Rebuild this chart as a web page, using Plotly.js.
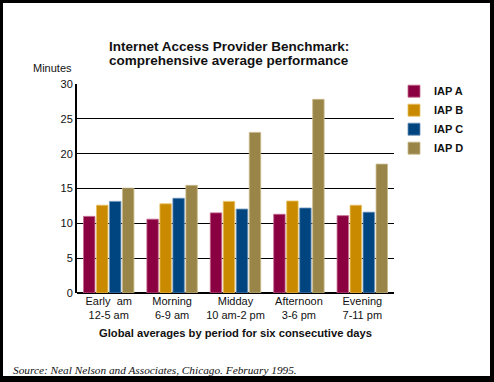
<!DOCTYPE html>
<html><head><meta charset="utf-8">
<script src="https://cdn.plot.ly/plotly-3.0.1.min.js"></script>
<style>
html,body{margin:0;padding:0;background:#000;}
#wrap{position:absolute;left:0;top:0;width:494px;height:382px;box-sizing:border-box;border-style:solid;border-color:#000;border-width:3px 4px 6px 3px;background:#fff;}
#chart{width:487px;height:373px;}
</style></head>
<body><div id="wrap"><div id="chart"></div></div>
<script>
const categories = ["Early  am<br>12-5 am", "Morning<br>6-9 am", "Midday<br>10 am-2 pm", "Afternoon<br>3-6 pm", "Evening<br>7-11 pm"];
const seriesNames = ["IAP A", "IAP B", "IAP C", "IAP D"];
const iapA = [11.0, 10.6, 11.5, 11.3, 11.1];
const iapB = [12.6, 12.8, 13.15, 13.2, 12.6];
const iapC = [13.15, 13.6, 12.05, 12.2, 11.6];
const iapD = [15.05, 15.45, 23.05, 27.8, 18.5];
const yTicks = [0, 5, 10, 15, 20, 25, 30];
const titleLines = ["Internet Access Provider Benchmark:", "comprehensive average performance"];
const colors = ["#8a0040", "#c98a00", "#00457f", "#9a8549"];
const edgeColors = ["#c46a8e", "#e8c060", "#6a90b8", "#c8b888"];

const bold = '"Liberation Sans", Arial, sans-serif';
const reg = '"Liberation Sans", Arial, sans-serif';

const values = [iapA, iapB, iapC, iapD];
const traces = values.map((v, i) => ({
  type: 'bar', x: categories, y: v, name: seriesNames[i],
  marker: {color: colors[i], line: {color: edgeColors[i], width: 0.8}},
  hoverinfo: 'none'
}));

const layout = {
  width: 487, height: 373,
  margin: {l: 74, r: 96, t: 81, b: 83, pad: 0},
  paper_bgcolor: '#fff', plot_bgcolor: '#fff',
  barmode: 'group', bargap: 0.18, bargroupgap: 0.12,
  showlegend: true,
  legend: {x: 1.0, xanchor: 'left', y: 1.035, yanchor: 'top', traceorder: 'normal',
    font: {family: bold, size: 11, color: '#111', weight: 'bold'},
    itemwidth: 30, tracegroupgap: 0, bgcolor: 'rgba(0,0,0,0)'},
  xaxis: {type: 'category', showgrid: false, showline: false, ticks: '',
    tickfont: {family: reg, size: 11, color: '#111'},
    title: {text: '<b>Global averages by period for six consecutive days</b>', standoff: 8,
      font: {family: bold, size: 11.2, color: '#111'}}},
  yaxis: {range: [0, 30], tickvals: yTicks, ticktext: yTicks.map(String),
    showgrid: true, gridcolor: '#000', gridwidth: 1,
    zeroline: true, zerolinecolor: '#000', zerolinewidth: 2.5,
    showline: true, linecolor: '#000', linewidth: 2, ticks: '', ticklen: 0,
    tickfont: {family: reg, size: 11, color: '#111'}},
  annotations: [
    {text: '<b>' + titleLines[0] + '</b>', xref: 'paper', yref: 'paper', x: 0.48, y: 1, yshift: 28,
      xanchor: 'center', yanchor: 'bottom', showarrow: false, font: {family: bold, size: 13.5, color: '#111'}},
    {text: '<b>' + titleLines[1] + '</b>', xref: 'paper', yref: 'paper', x: 0.48, y: 1, yshift: 14,
      xanchor: 'center', yanchor: 'bottom', showarrow: false, font: {family: bold, size: 13.5, color: '#111'}},
    {text: 'Minutes', xref: 'paper', yref: 'paper', x: -0.01, y: 1.04, xanchor: 'right', yanchor: 'bottom',
      showarrow: false, font: {family: reg, size: 11, color: '#111'}},
    {text: '<i>Source: Neal Nelson and Associates, Chicago. February 1995.</i>', xref: 'paper', yref: 'paper',
      x: -0.2, y: -0.33, xanchor: 'left', yanchor: 'top', xshift: -3,
      showarrow: false, font: {family: '"Liberation Serif", "Times New Roman", serif', size: 11.3, color: '#111'}}
  ]
};
Plotly.newPlot('chart', traces, layout, {displayModeBar: false, staticPlot: true});
</script></body></html>
